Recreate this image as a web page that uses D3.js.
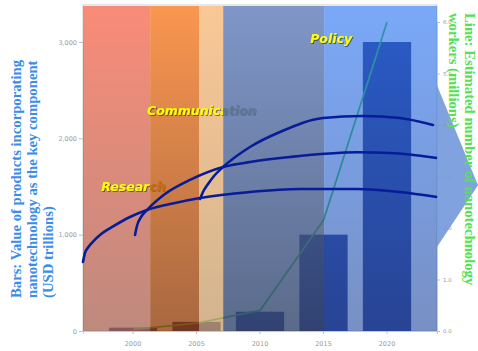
<!DOCTYPE html>
<html><head><meta charset="utf-8">
<script src="https://cdn.jsdelivr.net/npm/d3@7"></script>
<style>html,body{margin:0;padding:0;background:#fff;overflow:hidden}</style>
</head><body><svg id="c" width="478" height="351"></svg>
<script>
// ---------- data ----------
const years = [2000, 2005, 2010, 2015, 2020];
const productValues = [35, 95, 200, 1000, 3000];        // bars, left axis
const workerValues = [0.03, 0.15, 0.4, 2.15, 6.0];      // line, right axis (millions)
const leftTicks = [0, 1000, 2000, 3000];
const rightTicks = [0, 1, 2, 3, 4, 5, 6];
const leftTitle = ["Bars: Value of products incorporating", "nanotechnology as the key component", "(USD trillions)"];
const rightTitle = ["Line: Estimated number of nanotechnology", "workers (millions)"];
// phase bands (years), and labels
const bandEdges = [1995.9, 2001.35, 2005.2, 2007.1, 2015.05, 2024];
const phaseLabels = ["Research", "Communication", "Policy"];
const phaseLabelAt = [[1997.5, 1453], [2001.1, 2242], [2013.95, 2990]];
// decorative arcs (year, left-axis value)
const arcResearch = [[1996.06,716],[1996.22,810],[1996.46,867],[1996.85,929],[1997.4,997],[1998.43,1085],[1999.76,1183],[2001.1,1256],[2003.31,1329],[2005.28,1381],[2009.21,1443],[2013.15,1474],[2017.64,1474],[2021.02,1443],[2023.94,1391]];
const arcCommunication = [[2000.16,997],[2000.31,1090],[2000.63,1183],[2001.1,1256],[2002.52,1422],[2004.49,1568],[2007.09,1702],[2009.21,1754],[2012.36,1806],[2017.64,1855],[2020.24,1848],[2023.94,1796]];
const arcPolicy = [[2005.28,1370],[2005.51,1443],[2005.91,1526],[2006.38,1609],[2007.09,1702],[2009.21,1910],[2011.57,2066],[2014.96,2211],[2018.11,2232],[2021.02,2211],[2023.62,2138]];

// ---------- layout ----------
const W = 478, H = 351;
const M = {left: 83, right: 437, top: 6, bottom: 331};
const svg = d3.select("#c");
const defs = svg.append("defs");

const x = d3.scaleBand().domain(years).range([M.left, M.right]).paddingInner(0.24).paddingOuter(0.4075);
const cx = d => x(d) + x.bandwidth() / 2;
const xYear = d3.scaleLinear().domain([2000, 2020]).range([cx(2000), cx(2020)]);
const yL = d3.scaleLinear().domain([0, 3000]).range([M.bottom, 42]);
const yR = d3.scaleLinear().domain([0, 6]).range([M.bottom, 22]);

svg.append("rect").attr("width", W).attr("height", H).attr("fill", "#fff");

// ---------- underlying chart ----------
svg.append("rect").attr("x", M.left).attr("y", 5).attr("width", M.right - M.left).attr("height", M.bottom - 5)
  .attr("fill", "#fff").attr("stroke", "#cfcfcf").attr("stroke-width", 1);

const axStyle = g => {
  g.selectAll("path.domain").attr("stroke", "#c8c8c8");
  g.selectAll("line").attr("stroke", "#bdbdbd");
  g.selectAll("text").attr("fill", "#9a9a9a").attr("font-family", "DejaVu Sans").attr("font-size", 6.5);
};
svg.append("g").attr("transform", `translate(${M.left},0)`)
  .call(d3.axisLeft(yL).tickValues(leftTicks).tickFormat(d3.format(",")).tickSize(4).tickPadding(2))
  .call(axStyle);
svg.append("g").attr("transform", `translate(0,${M.bottom})`)
  .call(d3.axisBottom(x).tickSize(3).tickPadding(7))
  .call(axStyle);
svg.append("g").attr("transform", `translate(${M.right},0)`)
  .call(d3.axisRight(yR).tickValues(rightTicks).tickFormat(d3.format(".1f")).tickSize(3).tickPadding(3))
  .call(axStyle).selectAll("text").attr("font-size", 5.5);

svg.append("g").selectAll("rect").data(years).join("rect")
  .attr("x", d => x(d)).attr("width", x.bandwidth())
  .attr("y", (d, i) => yL(productValues[i])).attr("height", (d, i) => M.bottom - yL(productValues[i]))
  .attr("fill", "#2D3781");

svg.append("path").datum(years)
  .attr("d", d3.line().x(d => cx(d)).y((d, i) => yR(workerValues[i])))
  .attr("fill", "none").attr("stroke", "#33CC44").attr("stroke-width", 1.7);

// ---------- overlay bands ----------
const bandStyles = [
  {top: "#F7654B", bot: "#A86353", op: 0.75},
  {top: "#F87315", bot: "#8B3500", op: 0.75},
  {top: "#F8B573", bot: "#C39B69", op: 0.75},
  {top: "#5F7CBA", bot: "#32456D", op: 0.8},
  {top: "#2873F4", bot: "#254CA0", op: 0.62}
];
bandStyles.forEach((s, i) => {
  const g = defs.append("linearGradient").attr("id", "bg" + i).attr("x1", 0).attr("y1", 0).attr("x2", 0).attr("y2", 1);
  g.append("stop").attr("offset", 0).attr("stop-color", s.top);
  g.append("stop").attr("offset", 1).attr("stop-color", s.bot);
});
const sh = defs.append("filter").attr("id", "sh").attr("x", "-10%").attr("y", "-30%").attr("width", "130%").attr("height", "170%");
sh.append("feDropShadow").attr("dx", 0.9).attr("dy", 0.9).attr("stdDeviation", 0.4).attr("flood-color", "#000").attr("flood-opacity", 0.55);

function band(i) {
  const x0 = Math.max(M.left, xYear(bandEdges[i])), x1 = Math.min(M.right, xYear(bandEdges[i + 1]));
  svg.append("rect").attr("x", x0).attr("y", M.top).attr("width", x1 - x0).attr("height", M.bottom - M.top)
    .attr("fill", `url(#bg${i})`).attr("fill-opacity", bandStyles[i].op);
}
function label(i, dimStart, dimColor) {
  const [yy, vv] = phaseLabelAt[i];
  const t = svg.append("text").attr("x", xYear(yy)).attr("y", yL(vv))
    .attr("font-family", "DejaVu Sans").attr("font-weight", "bold").attr("font-style", "italic")
    .attr("font-size", 12.5).attr("filter", "url(#sh)").text(phaseLabels[i]);
  if (dimStart != null) {
    const gid = "lg" + i;
    const g = defs.append("linearGradient").attr("id", gid).attr("gradientUnits", "userSpaceOnUse")
      .attr("x1", 0).attr("x2", W).attr("y1", 0).attr("y2", 0);
    const o = xYear(dimStart) / W;
    g.append("stop").attr("offset", o).attr("stop-color", "#FFFF00");
    g.append("stop").attr("offset", o).attr("stop-color", dimColor);
    t.attr("fill", `url(#${gid})`);
  } else t.attr("fill", "#FFFF00");
}
band(0);
label(0, bandEdges[1], "#D9C030");
band(1); band(2);
label(1, bandEdges[3], "#8CAA5A");
band(3); band(4);
label(2, null);

// ---------- arcs ----------
const arcLine = d3.line().x(d => xYear(d[0])).y(d => yL(d[1])).curve(d3.curveMonotoneX);
[arcResearch, arcCommunication, arcPolicy].forEach(a => {
  svg.append("path").attr("d", arcLine(a)).attr("fill", "none").attr("stroke", "#071C98")
    .attr("stroke-width", 2.6).attr("stroke-linecap", "round");
});

// ---------- arrow ----------
svg.append("path")
  .attr("d", `M${M.right},${yR(4.77)} L${W},${yR(2.83)} L${M.right},${yR(1.63)} Z`)
  .attr("fill", "#7299DC").attr("fill-opacity", 0.9);

// ---------- titles ----------
const lt = svg.append("text").attr("transform", "translate(21,298) rotate(-90)")
  .attr("font-family", "Liberation Serif").attr("font-weight", "bold").attr("font-size", 14.7).attr("fill", "#3A8DE8");
leftTitle.forEach((s, i) => lt.append("tspan").attr("x", 0).attr("y", i * 16).text(s));
const rt = svg.append("text").attr("transform", "translate(465,13) rotate(90)")
  .attr("font-family", "Liberation Serif").attr("font-weight", "bold").attr("font-size", 14.7).attr("fill", "#55E055");
rightTitle.forEach((s, i) => rt.append("tspan").attr("x", 0).attr("y", i * 16).text(s));
</script></body></html>
